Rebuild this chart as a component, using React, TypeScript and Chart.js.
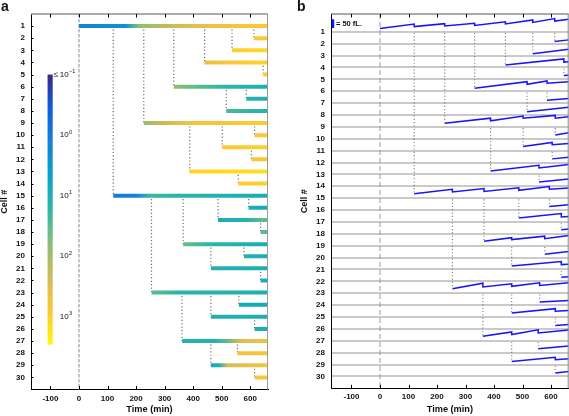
import React, { useEffect, useRef } from "react";
import { Chart, registerables } from "chart.js";

Chart.register(...registerables);

const FONT = '"Liberation Sans", Arial, Helvetica, sans-serif';

// ---------------- data ----------------
const cellIds = [1, 2, 3, 4, 5, 6, 7, 8, 9, 10, 11, 12, 13, 14, 15, 16, 17, 18, 19, 20, 21, 22, 23, 24, 25, 26, 27, 28, 29, 30];
// parent cell of each cell (0 = founder)
const parentIds = [0, 1, 1, 1, 4, 1, 6, 6, 1, 9, 9, 11, 9, 13, 1, 15, 15, 17, 15, 19, 19, 21, 15, 23, 23, 25, 23, 27, 27, 29];
// birth time (min) of each cell
const birthTimes = [0, 613, 536, 440, 645, 332, 586, 516, 227, 615, 502, 604, 388, 558, 120, 594, 487, 636, 365, 578, 462, 636, 254, 560, 462, 615, 361, 555, 462, 615];
const END_TIME = 662;
const timeTicks = [-100, 0, 100, 200, 300, 400, 500, 600];

// colour bar (log10 values)
const colorbarTicks = [-1, 0, 1, 2, 3];
const CB_MIN = -1;
const CB_MAX = 3.46;
const parulaStops = ["#352a87", "#0f5cdd", "#1481d6", "#06a4ca", "#2eb7a4", "#87bf77", "#d1bb59", "#fec832", "#f9fb0e"];

// panel a: log10 value along each cell's bar, [time, value]
const colorKeys = [
  [[0, 0.2], [160, 0.35], [210, 1.8], [300, 2.2], [450, 2.65], [662, 2.9]],
  [[613, 2.85], [662, 2.95]],
  [[536, 2.95], [662, 3.1]],
  [[440, 2.6], [530, 2.85], [662, 3.0]],
  [[645, 2.9], [662, 2.95]],
  [[332, 1.85], [420, 1.5], [520, 1.2], [662, 1.0]],
  [[586, 1.1], [662, 1.05]],
  [[516, 1.4], [600, 1.2], [662, 1.1]],
  [[227, 1.9], [300, 2.3], [380, 2.7], [662, 2.95]],
  [[615, 2.85], [662, 2.9]],
  [[502, 2.85], [662, 3.0]],
  [[604, 2.8], [662, 2.85]],
  [[388, 3.05], [662, 3.15]],
  [[558, 2.9], [662, 3.0]],
  [[120, 0.0], [200, 0.15], [250, 1.3], [320, 1.2], [500, 1.05], [662, 0.9]],
  [[594, 0.95], [662, 0.9]],
  [[487, 1.0], [580, 1.05], [640, 1.5], [662, 1.55]],
  [[636, 1.5], [662, 1.5]],
  [[365, 1.6], [460, 1.2], [662, 0.9]],
  [[578, 1.05], [662, 0.95]],
  [[462, 1.1], [662, 0.95]],
  [[636, 0.9], [662, 0.9]],
  [[254, 1.5], [360, 1.15], [662, 1.0]],
  [[560, 0.9], [662, 0.9]],
  [[462, 1.05], [662, 1.0]],
  [[615, 1.0], [662, 0.95]],
  [[361, 1.1], [470, 1.05], [520, 1.6], [570, 2.5], [662, 2.75]],
  [[555, 2.7], [662, 2.8]],
  [[462, 0.9], [490, 0.95], [520, 2.4], [662, 2.8]],
  [[615, 2.8], [662, 2.85]],
];

// panel b: cell volume (fL) traces, [time, volume]
const volumeTraces = [
  [[0, 19], [120, 45], [120, 30], [227, 47], [227, 34], [332, 49], [332, 37], [440, 58], [440, 45], [536, 68], [536, 54], [613, 76], [613, 62], [662, 72]],
  [[613, 12], [662, 22]],
  [[536, 10], [662, 37]],
  [[440, 14], [645, 49], [645, 31], [662, 33]],
  [[645, 22], [662, 24]],
  [[332, 17], [516, 55], [516, 40], [586, 59], [586, 46], [662, 54]],
  [[586, 17], [662, 26]],
  [[516, 19], [662, 44]],
  [[227, 21], [388, 50], [388, 35], [502, 62], [502, 50], [615, 66], [615, 50], [662, 58]],
  [[615, 22], [662, 34]],
  [[502, 24], [604, 47], [604, 34], [662, 41]],
  [[604, 21], [662, 31]],
  [[388, 20], [558, 52], [558, 37], [662, 57]],
  [[558, 24], [662, 42]],
  [[120, 25], [254, 51], [254, 36], [365, 55], [365, 39], [487, 60], [487, 45], [594, 67], [594, 51], [662, 58]],
  [[594, 21], [662, 30]],
  [[487, 23], [636, 48], [636, 29], [662, 31]],
  [[636, 23], [662, 28]],
  [[365, 26], [462, 46], [462, 35], [578, 55], [578, 40], [662, 58]],
  [[578, 19], [662, 35]],
  [[462, 20], [636, 46], [636, 28], [662, 30]],
  [[636, 24], [662, 26]],
  [[254, 26], [361, 58], [361, 36], [462, 54], [462, 40], [560, 60], [560, 45], [662, 60]],
  [[560, 18], [662, 27]],
  [[462, 23], [615, 48], [615, 33], [662, 37]],
  [[615, 20], [662, 25]],
  [[361, 26], [462, 51], [462, 36], [555, 63], [555, 45], [662, 62]],
  [[555, 23], [662, 38]],
  [[462, 18], [615, 42], [615, 28], [662, 33]],
  [[615, 20], [662, 28]],
];
const SCALE_BAR_FL = 50;

// ---------------- styling / geometry ----------------
const K = 8.7 / 11.88 / 50; // rows per fL in panel b
const CB_X0 = -110; // colour bar placement (time units)
const CB_X1 = -92;
const CB_ROW_TOP = 5;
const CB_ROW_BOTTOM = 27.3;
const SCALE_BAR_X = -165;
const SCALE_BAR_ROW = 0.68;
const TRACE_BLUE = "#1414ff";

function hexToRgb(h: string) {
  const n = parseInt(h.slice(1), 16);
  return [(n >> 16) & 255, (n >> 8) & 255, n & 255];
}
const parulaRgb = parulaStops.map(hexToRgb);
function parulaColor(v: number) {
  let t = (v - CB_MIN) / (CB_MAX - CB_MIN);
  t = Math.max(0, Math.min(1, t));
  const n = parulaRgb.length - 1;
  const f = t * n;
  const i = Math.min(Math.floor(f), n - 1);
  const u = f - i;
  const a = parulaRgb[i];
  const b = parulaRgb[i + 1];
  const c = a.map((av, k) => Math.round(av + (b[k] - av) * u));
  return `rgb(${c[0]},${c[1]},${c[2]})`;
}

function barGradient(chart: any, i: number) {
  const keys = colorKeys[i];
  if (!chart.chartArea) return parulaColor(keys[0][1]);
  const x = chart.scales.x;
  const t0 = birthTimes[i];
  const x0 = x.getPixelForValue(t0);
  const x1 = x.getPixelForValue(END_TIME);
  const g = chart.ctx.createLinearGradient(x0, 0, x1, 0);
  keys.forEach(([t, v]) => {
    const off = Math.max(0, Math.min(1, (t - t0) / (END_TIME - t0)));
    g.addColorStop(off, parulaColor(v));
  });
  return g;
}

function drawFrame(chart: any, o: any) {
  const { ctx, chartArea: ca, scales } = chart;
  const x = scales.x;
  const y = scales.y;
  ctx.save();
  ctx.strokeStyle = o.topColor;
  ctx.lineWidth = o.topWidth;
  ctx.beginPath();
  ctx.moveTo(ca.left, ca.top);
  ctx.lineTo(ca.right, ca.top);
  ctx.stroke();
  ctx.strokeStyle = o.rightColor;
  ctx.lineWidth = 1;
  ctx.beginPath();
  ctx.moveTo(ca.right - 0.5, ca.top);
  ctx.lineTo(ca.right - 0.5, ca.bottom);
  ctx.stroke();
  ctx.strokeStyle = "#000";
  ctx.lineWidth = 1;
  ctx.beginPath();
  timeTicks.forEach((v) => {
    const px = Math.round(x.getPixelForValue(v)) + 0.5;
    ctx.moveTo(px, ca.bottom);
    ctx.lineTo(px, ca.bottom - 3.5);
    ctx.moveTo(px, ca.top);
    ctx.lineTo(px, ca.top + 3.5);
  });
  if (o.yTicks) {
    cellIds.forEach((v) => {
      const py = Math.round(y.getPixelForValue(v)) + 0.5;
      ctx.moveTo(ca.left, py);
      ctx.lineTo(ca.left + 2.5, py);
    });
  }
  ctx.stroke();
  ctx.fillStyle = "#111";
  ctx.font = `bold 14px ${FONT}`;
  ctx.textBaseline = "top";
  ctx.textAlign = "left";
  ctx.fillText(o.letter, o.letterX, 0);
  ctx.restore();
}

function drawPow(ctx: any, xs: number, py: number, exp: string) {
  ctx.font = `8px ${FONT}`;
  ctx.textBaseline = "middle";
  ctx.textAlign = "left";
  ctx.fillText("10", xs, py);
  const w = ctx.measureText("10").width;
  ctx.font = `5.5px ${FONT}`;
  ctx.fillText(exp, xs + w + 0.5, py - 3);
}

const overlayA = {
  id: "overlayA",
  afterDraw(chart: any) {
    const { ctx, scales } = chart;
    const x = scales.x;
    const y = scales.y;
    drawFrame(chart, { topColor: "#8f8f8f", topWidth: 1.5, rightColor: "#9a9a9a", yTicks: true, letter: "a", letterX: 1 });
    // colour bar
    const xl = x.getPixelForValue(CB_X0);
    const xr = x.getPixelForValue(CB_X1);
    const yt = y.getPixelForValue(CB_ROW_TOP);
    const yb = y.getPixelForValue(CB_ROW_BOTTOM);
    ctx.save();
    const g = ctx.createLinearGradient(0, yt, 0, yb);
    parulaStops.forEach((c, k) => g.addColorStop(k / (parulaStops.length - 1), c));
    ctx.fillStyle = g;
    ctx.fillRect(xl, yt, xr - xl, yb - yt);
    ctx.fillStyle = "#111";
    const labelX = xr + 7;
    colorbarTicks.forEach((v) => {
      const row = CB_ROW_TOP + ((v - CB_MIN) / (CB_MAX - CB_MIN)) * (CB_ROW_BOTTOM - CB_ROW_TOP);
      const py = y.getPixelForValue(row);
      const exp = v < 0 ? "\u2212" + Math.abs(v) : String(v);
      if (v === CB_MIN) {
        ctx.font = `8px ${FONT}`;
        ctx.textBaseline = "middle";
        ctx.textAlign = "right";
        ctx.fillText("\u2264", labelX - 1.5, py);
      }
      drawPow(ctx, labelX, py, exp);
    });
    ctx.restore();
  },
};

const overlayB = {
  id: "overlayB",
  afterDraw(chart: any) {
    const { ctx, scales } = chart;
    drawFrame(chart, { topColor: "#555", topWidth: 1, rightColor: "#888", yTicks: false, letter: "b", letterX: 12 });
    const x = scales.x;
    const y = scales.y;
    ctx.save();
    ctx.fillStyle = "#111";
    ctx.font = `bold 7.5px ${FONT}`;
    ctx.textBaseline = "middle";
    ctx.textAlign = "left";
    ctx.fillText("= " + SCALE_BAR_FL + " fL.", x.getPixelForValue(SCALE_BAR_X) + 3, y.getPixelForValue(SCALE_BAR_ROW - (SCALE_BAR_FL * K) / 2));
    ctx.restore();
  },
};

const tickFont = { family: FONT, size: 8, weight: "bold" as const };
const titleFont = { family: FONT, size: 9.2, weight: "bold" as const };

function xScale(min: number, height: number) {
  return {
    type: "linear" as const,
    min,
    max: END_TIME,
    grid: { display: false, drawTicks: false },
    border: { display: true, color: "#000", width: 1 },
    ticks: { font: tickFont, color: "#111", padding: 4, maxRotation: 0, autoSkip: false },
    afterBuildTicks: (s: any) => {
      s.ticks = timeTicks.map((v) => ({ value: v }));
    },
    afterFit: (s: any) => {
      s.height = height;
    },
    title: { display: true, text: "Time (min)", font: titleFont, color: "#111", padding: { top: 0, bottom: 1 } },
  };
}

function yScale(min: number, width: number, titlePad: number, grid: any) {
  return {
    type: "linear" as const,
    min,
    max: 31,
    reverse: true,
    grid,
    border: { display: true, color: "#000", width: 1 },
    ticks: { font: tickFont, color: "#111", padding: 6, autoSkip: false },
    afterBuildTicks: (s: any) => {
      s.ticks = cellIds.map((v) => ({ value: v }));
    },
    afterFit: (s: any) => {
      s.width = width;
    },
    title: { display: true, text: "Cell #", font: { ...titleFont, size: 9 }, color: "#111", padding: { top: titlePad, bottom: 0 } },
  };
}

function configA(): any {
  const bars = cellIds.map((id, i) => ({
    data: [
      { x: birthTimes[i], y: id },
      { x: END_TIME, y: id },
    ],
    borderColor: (ctx: any) => barGradient(ctx.chart, i),
    borderWidth: 4,
    borderCapStyle: "butt",
    order: 0,
  }));
  const links = cellIds
    .map((id, i) => ({ id, i }))
    .filter(({ i }) => parentIds[i] > 0)
    .map(({ id, i }) => ({
      data: [
        { x: birthTimes[i], y: parentIds[i] },
        { x: birthTimes[i], y: id },
      ],
      borderColor: "#6f6f6f",
      borderWidth: 1.2,
      borderDash: [1.2, 2.2],
      order: 1,
    }));
  const zero = {
    data: [
      { x: 0, y: 0 },
      { x: 0, y: 31 },
    ],
    borderColor: "#c4c4c4",
    borderWidth: 2,
    borderDash: [3.5, 1.5],
    order: 2,
  };
  return {
    type: "line",
    data: { datasets: [...bars, ...links, zero] },
    options: {
      animation: false,
      responsive: false,
      events: [],
      elements: { point: { radius: 0, hoverRadius: 0 }, line: { tension: 0 } },
      plugins: { legend: { display: false }, tooltip: { enabled: false } },
      layout: { padding: { top: 14, right: 17, left: 0, bottom: 0 } },
      scales: {
        x: xScale(-168, 26.5),
        y: yScale(0, 31, -1, { display: false, drawTicks: false }),
      },
    },
    plugins: [overlayA],
  };
}

function configB(): any {
  const traces = cellIds.map((id, i) => ({
    data: volumeTraces[i].map(([t, v]) => ({ x: t, y: id - v * K })),
    borderColor: TRACE_BLUE,
    borderWidth: 1.5,
    order: 0,
  }));
  const links = cellIds
    .map((id, i) => ({ id, i }))
    .filter(({ i }) => parentIds[i] > 0)
    .map(({ id, i }) => ({
      data: [
        { x: birthTimes[i], y: parentIds[i] + 0.1 },
        { x: birthTimes[i], y: id - volumeTraces[i][0][1] * K - 0.08 },
      ],
      borderColor: "#777",
      borderWidth: 1.1,
      borderDash: [1.1, 2.2],
      order: 1,
    }));
  const zero = {
    data: [
      { x: 0, y: -0.5 },
      { x: 0, y: 31 },
    ],
    borderColor: "#9a9a9a",
    borderWidth: 1,
    borderDash: [5, 3],
    order: 2,
  };
  const scaleBar = {
    data: [
      { x: SCALE_BAR_X, y: SCALE_BAR_ROW },
      { x: SCALE_BAR_X, y: SCALE_BAR_ROW - SCALE_BAR_FL * K },
    ],
    borderColor: TRACE_BLUE,
    borderWidth: 2.5,
    borderCapStyle: "butt",
    order: 0,
  };
  return {
    type: "line",
    data: { datasets: [...traces, scaleBar, ...links, zero] },
    options: {
      animation: false,
      responsive: false,
      events: [],
      elements: { point: { radius: 0, hoverRadius: 0 }, line: { tension: 0 } },
      plugins: { legend: { display: false }, tooltip: { enabled: false } },
      layout: { padding: { top: 14, right: 0.3, left: 0, bottom: 0 } },
      scales: {
        x: xScale(-171.9, 27.7),
        y: yScale(-0.5, 46, 14.3, { display: true, drawTicks: false, color: "#c9c9c9", lineWidth: 2 }),
      },
    },
    plugins: [overlayB],
  };
}

export default function App() {
  const refA = useRef<HTMLCanvasElement | null>(null);
  const refB = useRef<HTMLCanvasElement | null>(null);
  useEffect(() => {
    const a = new Chart(refA.current as HTMLCanvasElement, configA());
    const b = new Chart(refB.current as HTMLCanvasElement, configB());
    return () => {
      a.destroy();
      b.destroy();
    };
  }, []);
  return (
    <div style={{ position: "fixed", left: 0, top: 0, width: 569, height: 416, background: "#fff" }}>
      <canvas ref={refA} width={285} height={416} style={{ position: "absolute", left: 0, top: 0 }} />
      <canvas ref={refB} width={284} height={416} style={{ position: "absolute", left: 285, top: 0 }} />
    </div>
  );
}
